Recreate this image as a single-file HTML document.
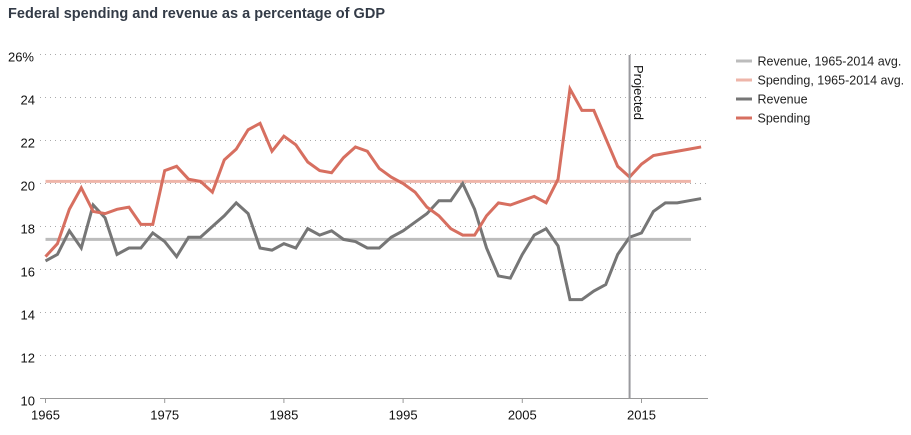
<!DOCTYPE html>
<html>
<head>
<meta charset="utf-8">
<style>
html,body{margin:0;padding:0;background:#fff;width:911px;height:435px;overflow:hidden}
svg{display:block}
text{font-family:"Liberation Sans",sans-serif}
</style>
</head>
<body>
<svg id="chart" width="911" height="435" viewBox="0 0 911 435">
<text x="8" y="18" font-size="14.5" font-weight="bold" fill="#333b47" textLength="377" lengthAdjust="spacing">Federal spending and revenue as a percentage of GDP</text>
<g id="grid"></g>
<g id="axes"></g>
<g id="marks"></g>
<g id="legend"></g>
</svg>
<script>
var years = [1965,1966,1967,1968,1969,1970,1971,1972,1973,1974,1975,1976,1977,1978,1979,1980,1981,1982,1983,1984,1985,1986,1987,1988,1989,1990,1991,1992,1993,1994,1995,1996,1997,1998,1999,2000,2001,2002,2003,2004,2005,2006,2007,2008,2009,2010,2011,2012,2013,2014,2015,2016,2017,2018,2019,2020];
var revenue = [16.4,16.7,17.8,17.0,19.0,18.4,16.7,17.0,17.0,17.7,17.3,16.6,17.5,17.5,18.0,18.5,19.1,18.6,17.0,16.9,17.2,17.0,17.9,17.6,17.8,17.4,17.3,17.0,17.0,17.5,17.8,18.2,18.6,19.2,19.2,20.0,18.8,17.0,15.7,15.6,16.7,17.6,17.9,17.1,14.6,14.6,15.0,15.3,16.7,17.5,17.7,18.7,19.1,19.1,19.2,19.3];
var spending = [16.6,17.2,18.8,19.8,18.7,18.6,18.8,18.9,18.1,18.1,20.6,20.8,20.2,20.1,19.6,21.1,21.6,22.5,22.8,21.5,22.2,21.8,21.0,20.6,20.5,21.2,21.7,21.5,20.7,20.3,20.0,19.6,18.9,18.5,17.9,17.6,17.6,18.5,19.1,19.0,19.2,19.4,19.1,20.2,24.4,23.4,23.4,22.1,20.8,20.3,20.9,21.3,21.4,21.5,21.6,21.7];
var revenueAvg = 17.4;
var spendingAvg = 20.1;
var avgStartYear = 1965;
var avgEndYear = 2019.15;
var projectedYear = 2014;
var yTicks = [10,12,14,16,18,20,22,24,26];
var xTicks = [1965,1975,1985,1995,2005,2015];
var legendLabels = ["Revenue, 1965-2014 avg.","Spending, 1965-2014 avg.","Revenue","Spending"];

var NS = "http://www.w3.org/2000/svg";
function xScale(v){ return 45.5 + (v - 1965) * 11.92; }
function yScale(v){ return 398.5 - (v - 10) * 21.5; }
function make(parent, tag, attrs, text){
  var el = document.createElementNS(NS, tag);
  for (var k in attrs) el.setAttribute(k, attrs[k]);
  if (text !== undefined) el.textContent = text;
  document.getElementById(parent).appendChild(el);
  return el;
}
function pointsOf(values){
  return values.map(function(v,i){ return xScale(years[i]).toFixed(2) + "," + yScale(v).toFixed(2); }).join(" ");
}

yTicks.forEach(function(t){
  var y = yScale(t);
  if (t !== 10) {
    var g = make("grid","line",{x1:40,x2:706,y1:y,y2:y,stroke:"#aaa","stroke-width":1,"stroke-dasharray":"1 4"});
    
    
  }
  var l = make("axes","text",{x:t===26?34:35,y:y+7,"text-anchor":"end","font-size":13,fill:"#111"}, t===26 ? "26%" : String(t));
  
  
});

var axis = make("axes","line",{x1:40,x2:708,y1:398.5,y2:398.5,stroke:"#999","stroke-width":1});



xTicks.forEach(function(t){
  var x = xScale(t);
  var k = make("axes","line",{x1:x,x2:x,y1:398.5,y2:403,stroke:"#999","stroke-width":1});
  
  
  var l = make("axes","text",{x:x,y:419.5,"text-anchor":"middle","font-size":13,fill:"#111"}, String(t));
  
  
});

var ra = make("marks","line",{x1:xScale(avgStartYear),x2:xScale(avgEndYear),y1:yScale(revenueAvg),y2:yScale(revenueAvg),stroke:"#bcbcbc","stroke-width":3});


var sa = make("marks","line",{x1:xScale(avgStartYear),x2:xScale(avgEndYear),y1:yScale(spendingAvg),y2:yScale(spendingAvg),stroke:"#eeb5a9","stroke-width":3});



var rl = make("marks","polyline",{points:pointsOf(revenue),fill:"none",stroke:"#767676","stroke-width":3,"stroke-linejoin":"miter"});


var sl = make("marks","polyline",{points:pointsOf(spending),fill:"none",stroke:"#d76f60","stroke-width":3,"stroke-linejoin":"miter"});



var px = xScale(projectedYear);
var pl = make("marks","line",{x1:px,x2:px,y1:55,y2:398,stroke:"#9a9a9e","stroke-width":2});


var pt = make("marks","text",{transform:"translate(634,65) rotate(90)","font-size":13,fill:"#111"}, "Projected");



var legendColors = ["#bcbcbc","#eeb5a9","#767676","#d76f60"];
legendLabels.forEach(function(label,i){
  var y = 61 + i * 19;
  var s = make("legend","line",{x1:736,x2:752,y1:y,y2:y,stroke:legendColors[i],"stroke-width":3});
  
  
  var t = make("legend","text",{x:757.5,y:y+4.5,"font-size":12.5,fill:"#222"}, label);
  
  
});
</script>
</body>
</html>
